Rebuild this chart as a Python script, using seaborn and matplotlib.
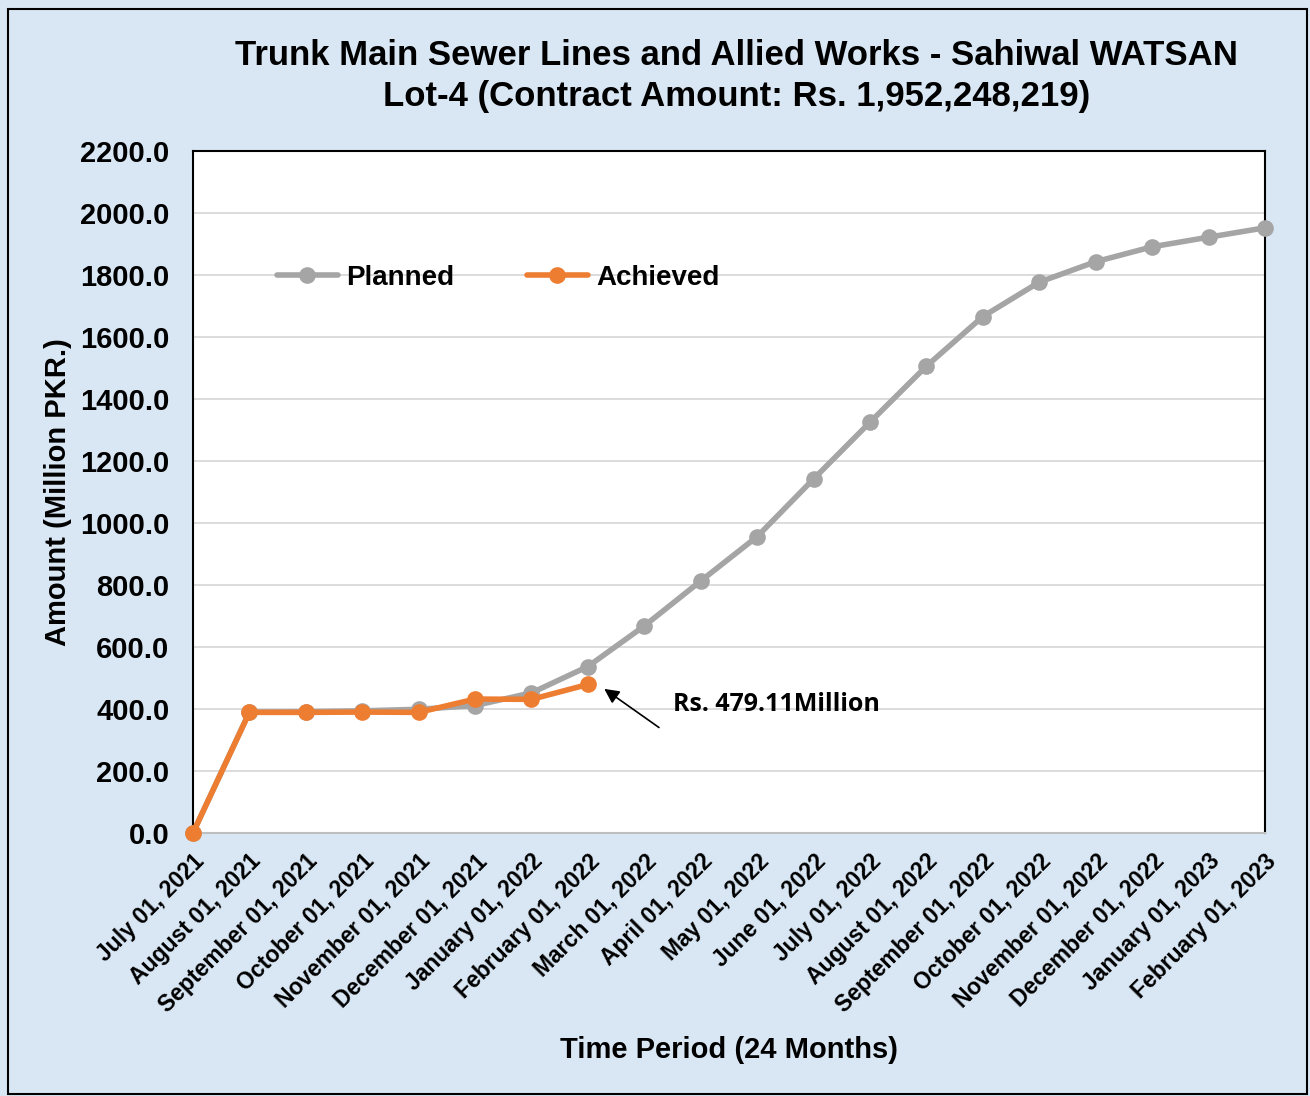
import numpy as np
import pandas as pd
import matplotlib
matplotlib.use("Agg")
import matplotlib.pyplot as plt
import matplotlib.patches as mpatches
import seaborn as sns

months = ["July 01, 2021", "August 01, 2021", "September 01, 2021", "October 01, 2021",
          "November 01, 2021", "December 01, 2021", "January 01, 2022", "February 01, 2022",
          "March 01, 2022", "April 01, 2022", "May 01, 2022", "June 01, 2022",
          "July 01, 2022", "August 01, 2022", "September 01, 2022", "October 01, 2022",
          "November 01, 2022", "December 01, 2022", "January 01, 2023", "February 01, 2023"]
planned = [0, 390, 391, 394, 399, 411, 452, 537, 668, 813, 956, 1142,
           1325, 1506, 1666, 1777, 1843, 1891, 1922, 1952.25]
achieved = [0, 389, 389, 390, 389, 432, 431, 479.11]

y_ticks = np.arange(0, 2201, 200)

sns.set_theme(style="white", rc={"text.color": "black", "axes.labelcolor": "black",
                                 "xtick.color": "black", "ytick.color": "black"})
plt.rcParams['font.family'] = ['Liberation Sans', 'DejaVu Sans']

bg = "#d9e7f4"
fig = plt.figure(figsize=(13.1, 10.96), dpi=100, facecolor=bg)
ax = fig.add_axes([0.1473, 0.24, 0.9656 - 0.1473, 0.8622 - 0.24])
ax.set_facecolor("white")

df_p = pd.DataFrame({"x": np.arange(len(planned)), "y": planned})
df_a = pd.DataFrame({"x": np.arange(len(achieved)), "y": achieved})

sns.lineplot(data=df_p, x="x", y="y", ax=ax, color="#a5a5a5", linewidth=4,
             marker="o", markersize=12, markeredgewidth=0, label="Planned", zorder=3,
             clip_on=False)
sns.lineplot(data=df_a, x="x", y="y", ax=ax, color="#ed7d31", linewidth=4,
             marker="o", markersize=12, markeredgewidth=0, label="Achieved", zorder=4,
             clip_on=False)

ax.set_xlim(0, len(months) - 1)
ax.set_ylim(0, 2200)
ax.set_yticks(y_ticks)
ax.set_yticklabels([f"{v:.1f}" for v in y_ticks], fontsize=21, fontweight="bold")
ax.set_xticks(np.arange(len(months)))
ax.set_xticklabels(months, rotation=45, ha="right", rotation_mode="anchor",
                   fontsize=16.5, fontweight="bold")
ax.tick_params(axis="y", length=0, pad=17)
ax.tick_params(axis="x", length=0, pad=12)
ax.grid(axis="y", color="#d9d9d9", linewidth=1.3)
ax.set_axisbelow(True)
for s in ["left", "top", "right"]:
    ax.spines[s].set_color("black")
    ax.spines[s].set_linewidth(1.5)
ax.spines["bottom"].set_color("#bfbfbf")
ax.spines["bottom"].set_linewidth(1.5)

ax.set_xlabel("Time Period (24 Months)", fontsize=21, fontweight="bold", labelpad=14)
ax.set_ylabel("Amount (Million PKR.)", fontsize=21, fontweight="bold")
ax.yaxis.set_label_coords(-0.113, 0.5)

fig.text(0.562, 0.931, "Trunk Main Sewer Lines and Allied Works - Sahiwal WATSAN\nLot-4 (Contract Amount: Rs. 1,952,248,219)",
         ha="center", va="center", fontsize=25, fontweight="bold", linespacing=1.3)

leg = ax.legend(loc="upper left", bbox_to_anchor=(0.055, 0.87), ncol=2, frameon=False,
                prop={"size": 20, "weight": "bold"}, handlelength=2.2, columnspacing=2.6,
                handletextpad=0.3)

ax.annotate("", xy=(7.25, 470), xytext=(8.3, 335),
            arrowprops=dict(arrowstyle="-|>", color="black", lw=1.2, mutation_scale=22))
ax.text(8.5, 413, "Rs. 479.11Million", fontsize=18, fontweight="bold",
        family=["Open Sans", "DejaVu Sans"], va="center", ha="left")

fig.add_artist(mpatches.Rectangle((0.006, 0.002), 0.992, 0.99, transform=fig.transFigure,
                                  fill=False, edgecolor="black", linewidth=1.5))

fig.savefig("out.png", dpi=100, facecolor=bg)
